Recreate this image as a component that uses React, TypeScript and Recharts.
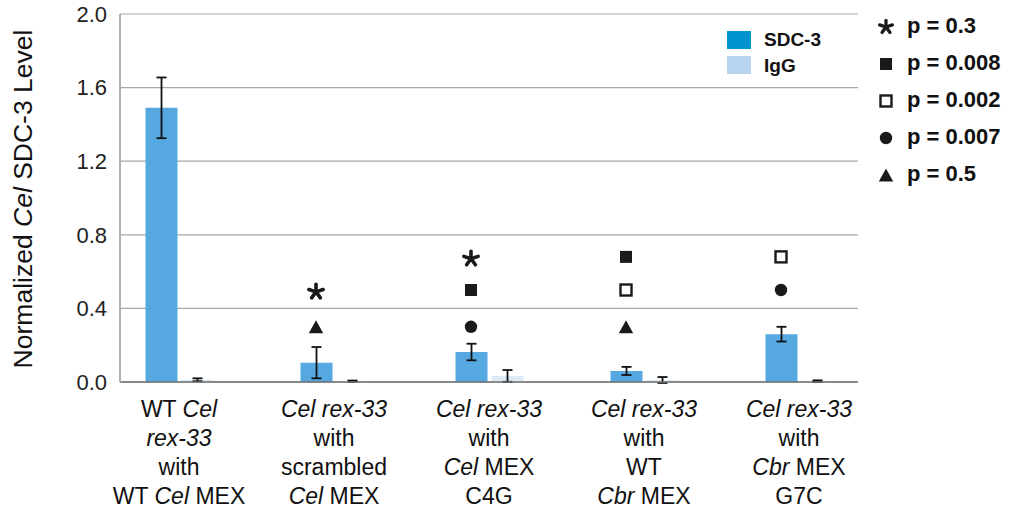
import React from "react";
import {
  ComposedChart,
  Bar,
  Scatter,
  XAxis,
  YAxis,
  CartesianGrid,
  ErrorBar,
  Legend,
} from "recharts";

// ---- data ----
const categories = [
  "WT *Cel*|*rex-33*|with|WT *Cel* MEX",
  "*Cel rex-33*|with|scrambled|*Cel* MEX",
  "*Cel rex-33*|with|*Cel* MEX|C4G",
  "*Cel rex-33*|with|WT|*Cbr* MEX",
  "*Cel rex-33*|with|*Cbr* MEX|G7C",
];
const sdcValues = [1.49, 0.105, 0.163, 0.06, 0.26];
const sdcErrors = [0.165, 0.085, 0.045, 0.022, 0.04];
const iggValues = [0.012, 0.005, 0.033, 0.011, 0.005];
const iggErrors = [0.008, 0.003, 0.032, 0.016, 0.004];

// significance marker levels (y position of each symbol per category)
const starLevels = [null, 0.49, 0.67, null, null];
const filledSquareLevels = [null, null, 0.5, 0.68, null];
const openSquareLevels = [null, null, null, 0.5, 0.68];
const circleLevels = [null, null, 0.3, null, 0.5];
const triangleLevels = [null, 0.3, null, 0.3, null];

const yTicks = [0, 0.4, 0.8, 1.2, 1.6, 2.0];
const seriesLegend = [
  { label: "SDC-3", color: "#0095CF" },
  { label: "IgG", color: "#B9D4F1" },
];
const pLegend = [
  { symbol: "star", label: "p = 0.3" },
  { symbol: "filledSquare", label: "p = 0.008" },
  { symbol: "openSquare", label: "p = 0.002" },
  { symbol: "circle", label: "p = 0.007" },
  { symbol: "triangle", label: "p = 0.5" },
];

const SDC_COLOR = "#55A9E0";
const IGG_COLOR = "#DCE9F6";
const FONT = "'Liberation Sans', Arial, Helvetica, sans-serif";

const data = categories.map((name, i) => ({
  name,
  sdc: sdcValues[i],
  sdcErr: sdcErrors[i],
  igg: iggValues[i],
  iggErr: iggErrors[i],
  star: starLevels[i],
  filledSquare: filledSquareLevels[i],
  openSquare: openSquareLevels[i],
  circle: circleLevels[i],
  triangle: triangleLevels[i],
}));

// ---- symbol drawing ----
function Symbol({ kind, cx, cy, s = 1 }: { kind: string; cx: number; cy: number; s?: number }) {
  const c = "#1a1a1a";
  if (kind === "star") {
    const arms = [0, 1, 2, 3, 4].map((k) => {
      const a = (-90 + k * 72) * (Math.PI / 180);
      return (
        <line
          key={k}
          x1={cx}
          y1={cy}
          x2={cx + Math.cos(a) * 7.5 * s}
          y2={cy + Math.sin(a) * 7.5 * s}
          stroke={c}
          strokeWidth={3.6 * s}
          strokeLinecap="round"
        />
      );
    });
    return <g>{arms}</g>;
  }
  if (kind === "filledSquare") {
    const h = 6 * s;
    return <rect x={cx - h} y={cy - h} width={2 * h} height={2 * h} fill={c} />;
  }
  if (kind === "openSquare") {
    const h = 5.5 * s;
    return (
      <rect x={cx - h} y={cy - h} width={2 * h} height={2 * h} fill="#fff" stroke={c} strokeWidth={2.4 * s} />
    );
  }
  if (kind === "circle") {
    return <circle cx={cx} cy={cy} r={6.2 * s} fill={c} />;
  }
  if (kind === "triangle") {
    const w = 7.2 * s;
    const h = 6.5 * s;
    return <path d={`M${cx},${cy - h} L${cx + w},${cy + h} L${cx - w},${cy + h} Z`} fill={c} />;
  }
  return null;
}

// offset from category centre to the SDC-3 bar centre (half of bar width + half of gap)
const SDC_OFFSET = -18;

const makeShape = (kind: string) => (props: any) => {
  const v = props?.payload?.[kind];
  if (v === null || v === undefined || !isFinite(props.cx) || !isFinite(props.cy)) return <g />;
  return <Symbol kind={kind} cx={props.cx + SDC_OFFSET} cy={props.cy} />;
};

// ---- axis ticks ----
function parseSegments(line: string) {
  return line.split("*").map((seg, i) => (
    <tspan key={i} fontStyle={i % 2 === 1 ? "italic" : "normal"}>
      {seg}
    </tspan>
  ));
}

const XTick = (props: any) => {
  const { x, y, payload } = props;
  const lines: string[] = String(payload.value).split("|");
  return (
    <g>
      <text x={x} y={y} textAnchor="middle" fontSize={23} fill="#111" fontFamily={FONT}>
        {lines.map((ln, i) => (
          <tspan key={i} x={x} dy={i === 0 ? 35 : 29}>
            {parseSegments(ln)}
          </tspan>
        ))}
      </text>
    </g>
  );
};

const YLabel = (props: any) => {
  const vb = props.viewBox || {};
  const cx = (vb.x ?? 0) + 23;
  const cy = (vb.y ?? 0) + (vb.height ?? 0) / 2 + 1;
  return (
    <text
      x={cx}
      y={cy}
      transform={`rotate(-90, ${cx}, ${cy})`}
      textAnchor="middle"
      dominantBaseline="central"
      fontSize={26.5}
      fill="#111"
      fontFamily={FONT}
    >
      <tspan>Normalized </tspan>
      <tspan fontStyle="italic">Cel</tspan>
      <tspan> SDC-3 Level</tspan>
    </text>
  );
};

const LegendContent = () => (
  <div style={{ position: "relative", width: 1009, height: 510, fontFamily: FONT, pointerEvents: "none" }}>
    {seriesLegend.map((item, i) => (
      <div key={item.label}>
        <div
          style={{
            position: "absolute",
            left: 727,
            top: 31 + i * 25,
            width: 24,
            height: 18,
            background: item.color,
          }}
        />
        <div
          style={{
            position: "absolute",
            left: 764,
            top: 29 + i * 26,
            fontSize: 19,
            fontWeight: "bold",
            lineHeight: "22px",
            color: "#111",
          }}
        >
          {item.label}
        </div>
      </div>
    ))}
    {pLegend.map((item, i) => (
      <div key={item.label}>
        <svg
          style={{ position: "absolute", left: 875, top: 14 + i * 37 }}
          width={22}
          height={26}
        >
          <Symbol kind={item.symbol} cx={11} cy={13} s={item.symbol === "star" ? 0.9 : 1} />
        </svg>
        <div
          style={{
            position: "absolute",
            left: 907,
            top: 13 + i * 37,
            fontSize: 22,
            fontWeight: "bold",
            lineHeight: "26px",
            color: "#111",
            whiteSpace: "nowrap",
          }}
        >
          {item.label}
        </div>
      </div>
    ))}
  </div>
);

export default function App() {
  return (
    <div style={{ position: "absolute", left: 0, top: 0, width: 1009, height: 510, background: "#fff" }}>
      <ComposedChart
        width={1009}
        height={510}
        data={data}
        margin={{ top: 14, right: 151, bottom: 0, left: 0 }}
        barGap={4}
        style={{ fontFamily: FONT }}
      >
        <CartesianGrid vertical={false} stroke="#a8a8a8" strokeWidth={1.2} />
        <XAxis
          dataKey="name"
          height={128}
          tick={<XTick />}
          tickLine={false}
          tickSize={0}
          tickMargin={0}
          interval={0}
          padding={{ left: -18.5, right: -18.5 }}
          axisLine={{ stroke: "#707070", strokeWidth: 1.5 }}
        />
        <YAxis
          width={120}
          domain={[0, 2]}
          ticks={yTicks}
          tickFormatter={(v: number) => v.toFixed(1)}
          tickLine={false}
          tickSize={0}
          tickMargin={13}
          axisLine={{ stroke: "#b0b0b0", strokeWidth: 2 }}
          tick={{ fontSize: 22, fill: "#222", fontFamily: FONT }}
          allowDataOverflow
          label={<YLabel />}
        />
        <YAxis
          yAxisId="frame"
          orientation="right"
          width={0}
          domain={[0, 2]}
          tick={false}
          tickLine={false}
          axisLine={{ stroke: "#a8a8a8", strokeWidth: 1.5 }}
        />
        <Bar dataKey="sdc" fill={SDC_COLOR} barSize={32} isAnimationActive={false}>
          <ErrorBar dataKey="sdcErr" width={5} stroke="#111" strokeWidth={1.8} />
        </Bar>
        <Bar dataKey="igg" fill={IGG_COLOR} barSize={32} isAnimationActive={false}>
          <ErrorBar dataKey="iggErr" width={5} stroke="#111" strokeWidth={1.8} />
        </Bar>
        <Scatter dataKey="star" shape={makeShape("star")} isAnimationActive={false} />
        <Scatter dataKey="filledSquare" shape={makeShape("filledSquare")} isAnimationActive={false} />
        <Scatter dataKey="openSquare" shape={makeShape("openSquare")} isAnimationActive={false} />
        <Scatter dataKey="circle" shape={makeShape("circle")} isAnimationActive={false} />
        <Scatter dataKey="triangle" shape={makeShape("triangle")} isAnimationActive={false} />
        <Legend
          layout="horizontal"
          verticalAlign="middle"
          align="center"
          content={<LegendContent />}
          wrapperStyle={{ position: "absolute", left: 0, top: 0, width: 1009, height: 510, margin: 0 }}
        />
      </ComposedChart>
    </div>
  );
}
